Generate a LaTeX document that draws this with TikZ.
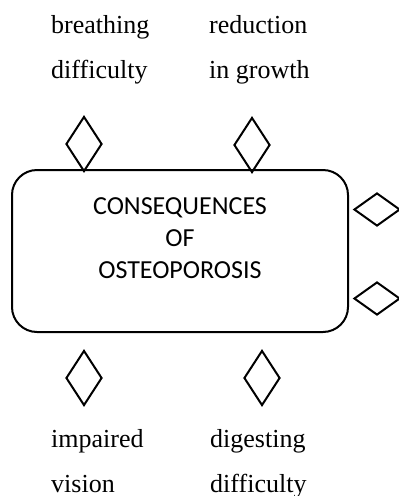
\documentclass[tikz,border=0pt]{standalone}
\usepackage{fontspec}
\setmainfont{Liberation Serif}
\newfontfamily\carlito{Carlito}
\usetikzlibrary{shapes.geometric}
\tikzset{
  vdiam/.style={draw, line width=2pt, shape=diamond, inner sep=0pt, minimum width=36pt, minimum height=55pt},
  hdiam/.style={draw, line width=2pt, shape=diamond, inner sep=0pt, minimum width=46pt, minimum height=33pt},
  lbl/.style={inner sep=0pt, anchor=base west, align=left, font=\fontsize{26}{45}\selectfont},
  ctext/.style={inner sep=0pt, anchor=base, align=center, font=\carlito\fontsize{26}{32}\selectfont},
  mainbox/.style={draw, line width=2pt, rounded corners=25pt, minimum width=336pt, minimum height=162pt}
}
\begin{document}
\begin{tikzpicture}[x=1pt,y=-1pt]
\useasboundingbox (0,0) rectangle (399,496);
\node[mainbox] (box) at (180,251) {};
\node[ctext] (title) at (180,278) {CONSEQUENCES\\OF\\OSTEOPOROSIS};
\node[vdiam] (d1) at (84,144) {};
\node[vdiam] (d2) at (252,145) {};
\node[hdiam] (d3) at (377,209.5) {};
\node[hdiam] (d4) at (377,298.5) {};
\node[vdiam] (d5) at (84,378) {};
\node[vdiam] (d6) at (262,378) {};
\node[lbl] (t1) at (51,78) {breathing\\difficulty};
\node[lbl] (t2) at (209,78) {reduction\\in growth};
\node[lbl] (t3) at (51,492) {impaired\\vision};
\node[lbl] (t4) at (210,492) {digesting\\difficulty};
\end{tikzpicture}
\end{document}
